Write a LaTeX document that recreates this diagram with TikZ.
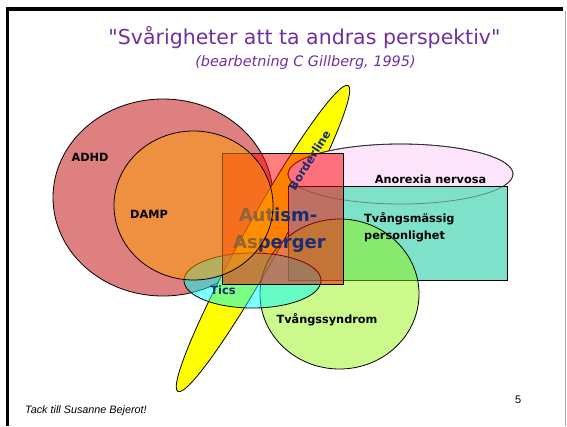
\documentclass[tikz,border=0pt]{standalone}
\usepackage{fontspec}
\setmainfont{DejaVu Sans}
\newfontfamily\titlefont{DejaVu Sans}[Ligatures=TeXOff]
\newfontfamily\footfont{Liberation Sans}
\definecolor{adhdpink}{RGB}{222,128,128}
\definecolor{bordyellow}{RGB}{255,255,0}
\definecolor{anorexpink}{RGB}{252,228,250}
\definecolor{tvteal}{RGB}{126,226,202}
\definecolor{tvgreen}{RGB}{146,244,10}
\definecolor{ticscyan}{RGB}{0,255,255}
\definecolor{autred}{RGB}{255,0,0}
\definecolor{damporange}{RGB}{255,160,0}
\definecolor{labelnavy}{RGB}{25,45,115}
\definecolor{titlepurple}{RGB}{112,48,160}
\begin{document}
\begin{tikzpicture}[x=1pt,y=-1pt,
  outline/.style={draw=black,line width=0.8pt},
  blacklabel/.style={font=\bfseries\fontsize{11.3}{13}\selectfont,text=black,inner sep=0pt},
  navylabel/.style={font=\bfseries\fontsize{11.5}{13}\selectfont,text=labelnavy,inner sep=0pt},
  biglabel/.style={font=\bfseries\fontsize{18}{20}\selectfont,text=labelnavy,inner sep=0pt}]
\useasboundingbox (0,0) rectangle (567,426);
\fill[white] (0,0) rectangle (567,426);

% slide frame
\draw[line width=3.6pt] (6,9.2) -- (563,9.2);
\draw[line width=3pt] (7.5,7.4) -- (7.5,426);
\draw[line width=1.4pt,black!35] (565.5,11) -- (565.5,426);

% titles
\node[anchor=base,text=titlepurple,font=\titlefont\fontsize{20.5}{24}\selectfont,inner sep=0pt] (title) at (304.5,44)
  {"Svårigheter att ta andras perspektiv"};
\node[anchor=base,text=titlepurple,font=\itshape\fontsize{14.4}{17}\selectfont,inner sep=0pt] (subtitle) at (305.5,66)
  {(bearbetning C Gillberg, 1995)};

% ADHD
\filldraw[outline,fill=adhdpink] (163,197.5) ellipse [x radius=110,y radius=98.5];
% Borderline
\filldraw[outline,fill=bordyellow,shift={(263,238.5)},rotate=60.9] (0,0) ellipse [x radius=175,y radius=19];
% Anorexia nervosa
\filldraw[outline,fill=anorexpink] (400.5,174) ellipse [x radius=112.5,y radius=30];
% Tvångsmässig personlighet
\filldraw[outline,fill=tvteal] (288,186) rectangle (507,280);
\draw[line width=0.8pt,black!70,opacity=0.6] (400.5,174) ellipse [x radius=112.5,y radius=30];
% Tvångssyndrom
\filldraw[outline,fill=tvgreen,fill opacity=0.47] (339.5,294) ellipse [x radius=79.5,y radius=75];
% Tics
\filldraw[outline,fill=ticscyan,fill opacity=0.5] (252.5,280.5) ellipse [x radius=68.5,y radius=27.5];
% Autism-Asperger
\filldraw[outline,fill=autred,fill opacity=0.5] (222,153) rectangle (343,284);
\node[biglabel,anchor=base] (autism) at (278,221) {Autism-};
\node[biglabel,anchor=base] (asperger) at (279.5,248) {Asperger};
% DAMP
\filldraw[outline,fill=damporange,fill opacity=0.5] (193.5,205.5) ellipse [x radius=79.5,y radius=74.5];

% labels
\node[blacklabel,anchor=base] (adhd) at (90,161) {ADHD};
\node[blacklabel,anchor=base] (damp) at (149,218) {DAMP};
\node[navylabel,rotate=58] (borderline) at (309.5,160) {Borderline};
\node[blacklabel,anchor=base] (anorexia) at (430.5,183) {Anorexia nervosa};
\node[blacklabel,anchor=base west] (tvpers1) at (364,222.7) {Tvångsmässig};
\node[blacklabel,anchor=base west] (tvpers2) at (364,239) {personlighet};
\node[navylabel,anchor=base] (tics) at (223,294) {Tics};
\node[blacklabel,anchor=base] (tvsyn) at (327,323) {Tvångssyndrom};

% footer
\node[anchor=base west,inner sep=0pt,font=\footfont\itshape\fontsize{10.8}{13}\selectfont] (thanks) at (25,413)
  {Tack till Susanne Bejerot!};
\node[anchor=base west,inner sep=0pt,font=\footfont\fontsize{11}{13}\selectfont] (pagenum) at (515,403.3) {5};
\end{tikzpicture}
\end{document}
